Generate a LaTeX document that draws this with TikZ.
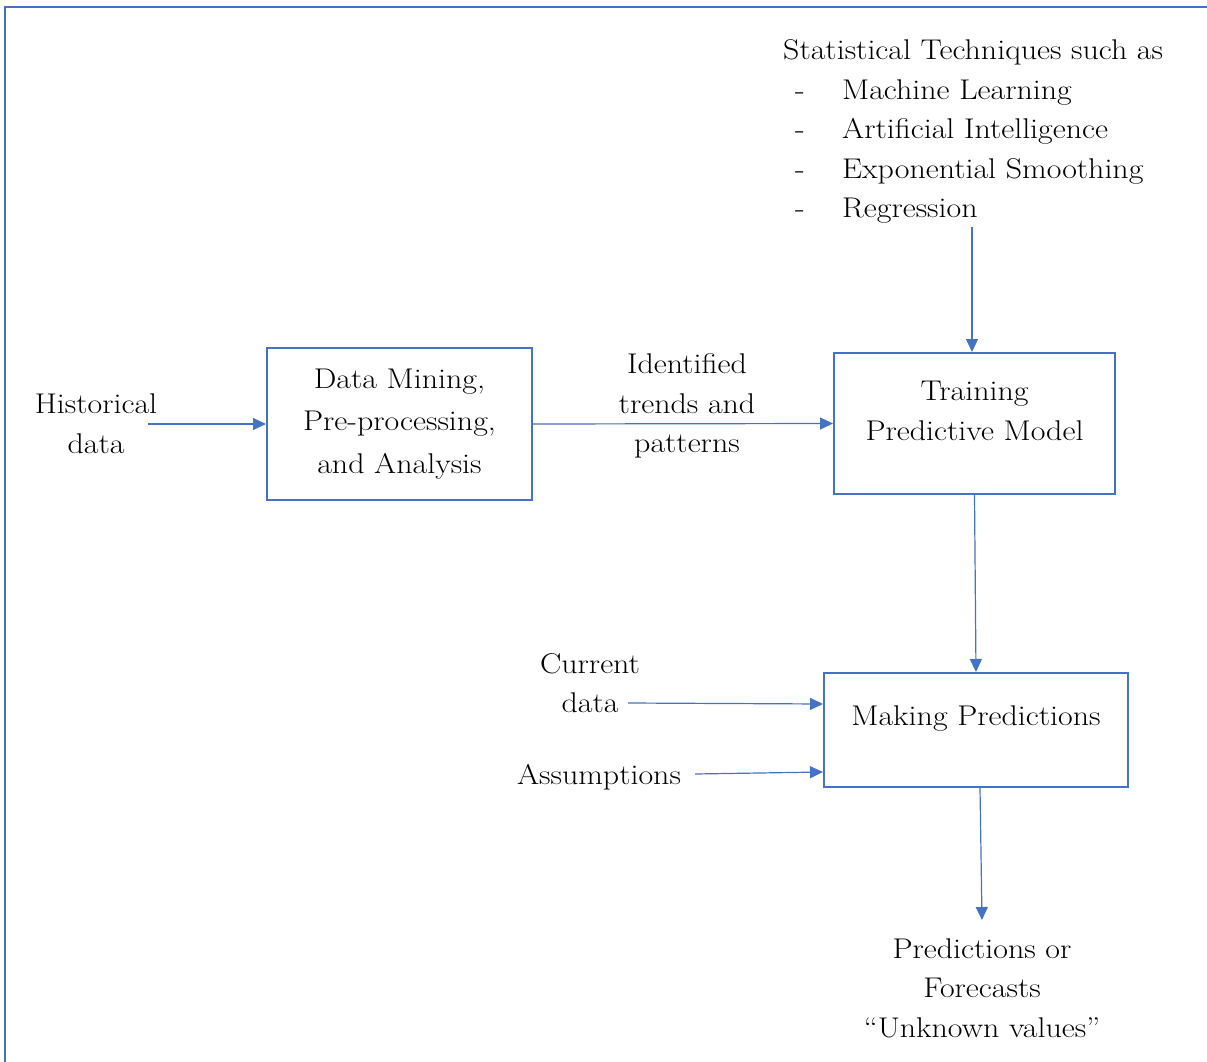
\documentclass[tikz,border=0pt]{standalone}
\usepackage{fontspec}
\setmainfont{Latin Modern Roman}[FakeStretch=1.12]
\usetikzlibrary{arrows.meta}
\definecolor{frameblue}{HTML}{4472C4}
\newcommand{\lifttext}[2]{\raisebox{#1}[\height][\depth]{#2}}
\begin{document}
\begin{tikzpicture}[x=1pt,y=-1pt,
  every node/.style={font=\fontsize{28.5}{39.5}\selectfont, text=black},
  procbox/.style={draw=frameblue, line width=2pt, inner sep=0pt, align=center},
  flow/.style={draw=frameblue, line width=1.2pt, -{Triangle[length=13pt,width=12pt]}},
  plain/.style={inner sep=0pt, align=center}]
  \useasboundingbox (0,0) rectangle (1207,1062);
  % outer frame, running off the right and bottom edges
  \draw[frameblue, line width=2.6pt] (1240,7) -- (5,7) -- (5,1080);

  % process boxes
  \node[procbox, minimum width=265pt, minimum height=152pt] (mine) at (399.5,424)
    {Data Mining,\\[3pt] Pre-processing,\\[3pt] and Analysis};
  \node[procbox, minimum width=281pt, minimum height=141pt] (train) at (974.5,423.5)
    {\lifttext{11pt}{\begin{tabular}{@{}c@{}}Training\\ Predictive Model\end{tabular}}};
  \node[procbox, minimum width=304pt, minimum height=114pt] (predict) at (976,730)
    {\lifttext{11pt}{Making Predictions}};

  % free texts
  \node[plain] (hist) at (96,423.5) {Historical\\ data};
  \node[plain] (trend) at (687,406) {Identified\\ trends and\\ patterns};
  \node[plain, anchor=north west] (tech) at (783,32) {\begin{tabular}{@{}l@{}}
    Statistical Techniques such as\\
    \hspace*{12pt}\makebox[47pt][l]{-}Machine Learning\\
    \hspace*{12pt}\makebox[47pt][l]{-}Artificial Intelligence\\
    \hspace*{12pt}\makebox[47pt][l]{-}Exponential Smoothing\\
    \hspace*{12pt}\makebox[47pt][l]{-}Regression
  \end{tabular}};
  \node[plain] (curr) at (590,683) {Current\\ data};
  \node[plain] (assume) at (599,777) {Assumptions};
  \node[plain] (out) at (982,988) {Predictions or\\ Forecasts\\ ``Unknown values''};

  % connectors
  \coordinate (histout) at (148,424);
  \draw[flow] (histout) -- (mine.west);
  \draw[flow] (mine.east) -- (train.west);
  \coordinate (techout) at (972,227);
  \draw[flow] (techout) -- (train.north -| techout);
  \draw[flow] (train.south) -- (predict.north);
  \coordinate (currout) at (628,703);
  \draw[flow] (currout) -- (predict.west |- 0,704);
  \coordinate (assout) at (695,774);
  \draw[flow] (assout) -- (predict.west |- 0,772);
  \coordinate (outin) at (982,920);
  \draw[flow] (predict.south -| 980,0) -- (outin);
\end{tikzpicture}
\end{document}
